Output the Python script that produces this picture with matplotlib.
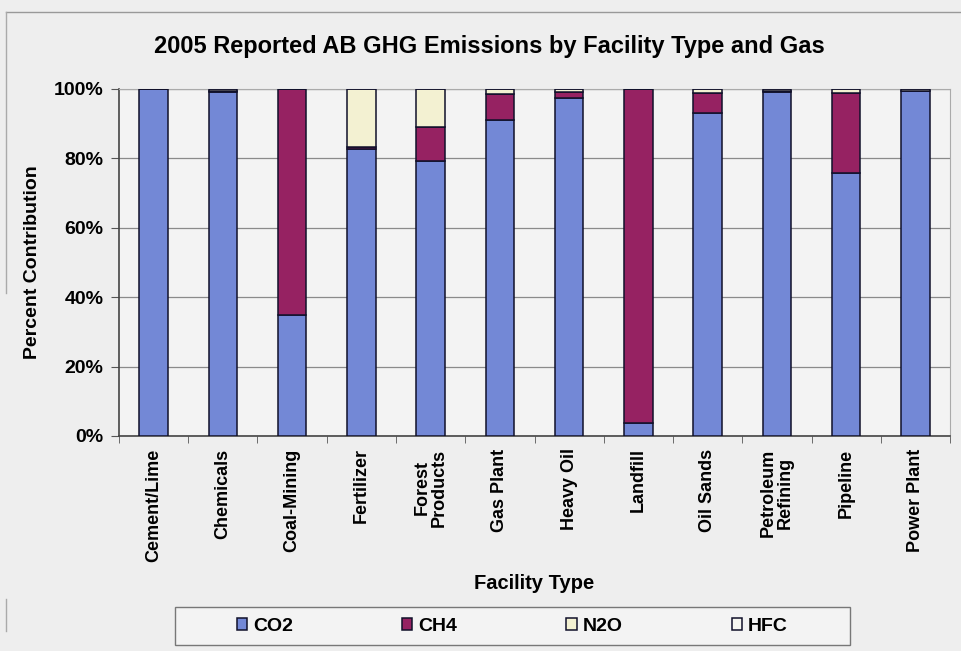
import numpy as np
import matplotlib.pyplot as plt
from matplotlib.patches import Rectangle
from matplotlib.lines import Line2D
from matplotlib.ticker import PercentFormatter, FixedLocator

plt.rcParams['font.family'] = ['Liberation Sans', 'DejaVu Sans']
plt.rcParams['font.weight'] = 'bold'

# Facility types and share of each gas (%)
facilities = ['Cement/Lime', 'Chemicals', 'Coal-Mining', 'Fertilizer', 'Forest\nProducts',
              'Gas Plant', 'Heavy Oil', 'Landfill', 'Oil Sands', 'Petroleum\nRefining',
              'Pipeline', 'Power Plant']
co2 = [99.9, 99.2, 35.0, 82.8, 79.2, 91.0, 97.4, 3.7, 93.2, 99.2, 75.7, 99.3]
ch4 = [0.1, 0.3, 65.0, 0.4, 9.8, 7.6, 1.6, 96.3, 5.7, 0.3, 23.1, 0.1]
n2o = [0.0, 0.5, 0.0, 16.8, 11.0, 1.4, 1.0, 0.0, 1.1, 0.5, 1.2, 0.6]
hfc = [0.0, 0.0, 0.0, 0.0, 0.0, 0.0, 0.0, 0.0, 0.0, 0.0, 0.0, 0.0]

gases = ['CO2', 'CH4', 'N2O', 'HFC']
colors = ['#7388d6', '#962262', '#f3f1d2', '#f6f6f0']

fig = plt.figure(figsize=(9.61, 6.51), dpi=100, facecolor='#eeeeee')
ax = fig.add_axes([0.1238, 0.3303, 0.8648, 0.533])
ax.set_facecolor('#f3f3f3')

x = np.arange(len(facilities))
bottom = np.zeros(len(facilities))
for name, vals, col in zip(gases, [co2, ch4, n2o, hfc], colors):
    ax.bar(x, vals, 0.41, bottom=bottom, color=col, edgecolor='#10102a',
           linewidth=1.1, label=name, zorder=3)
    bottom += np.array(vals)

ax.set_xlim(-0.5, len(facilities) - 0.5)
ax.set_ylim(0, 100)
ax.set_yticks(np.arange(0, 101, 20))
ax.yaxis.set_major_formatter(PercentFormatter(decimals=0))
ax.grid(axis='y', color='#8a8a8a', linewidth=0.9, zorder=0)

ax.set_xticks(x)
ax.set_xticklabels(facilities, rotation=90, fontsize=13, fontweight='bold',
                   linespacing=1.0)
ax.xaxis.set_minor_locator(FixedLocator(np.arange(-0.5, len(facilities), 1)))
ax.tick_params(axis='x', which='major', length=0, pad=9)
ax.tick_params(axis='x', which='minor', length=5, color='#555555')
ax.tick_params(axis='y', labelsize=14, length=6, color='#555555', pad=5)

for s in ['top', 'right']:
    ax.spines[s].set_color('#aaaaaa')
for s in ['left', 'bottom']:
    ax.spines[s].set_color('#444444')
    ax.spines[s].set_linewidth(1.2)

fig.text(0.509, 0.929, '2005 Reported AB GHG Emissions by Facility Type and Gas',
         ha='center', va='center', fontsize=17, fontweight='bold')
fig.text(0.034, 0.597, 'Percent Contribution', rotation=90, ha='center', va='center',
         fontsize=14, fontweight='bold')
fig.text(0.556, 0.104, 'Facility Type', ha='center', va='center',
         fontsize=14.5, fontweight='bold')

# legend box and entries
fig.patches.append(Rectangle((0.182, 0.009), 0.702, 0.058, transform=fig.transFigure,
                             facecolor='#f3f3f3', edgecolor='#777777', linewidth=1.0,
                             zorder=1))
leg = fig.legend(loc='center', bbox_to_anchor=(0.533, 0.038), ncol=4, frameon=False,
                 fontsize=14, handlelength=0.55, handleheight=0.55, handletextpad=0.3,
                 columnspacing=5.6)

# faint chart-area border from the scanned page
fig.add_artist(Line2D([0.006, 1.0], [0.982, 0.982], color='#999999', linewidth=1.0))
fig.add_artist(Line2D([0.006, 0.006], [0.982, 0.55], color='#aaaaaa', linewidth=1.0))
fig.add_artist(Line2D([0.006, 0.006], [0.08, 0.03], color='#aaaaaa', linewidth=1.0))

fig.savefig('out.png', dpi=100, facecolor=fig.get_facecolor())
